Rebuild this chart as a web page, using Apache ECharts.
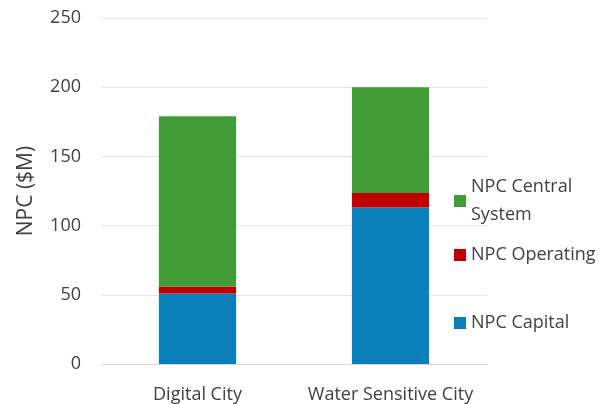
<!DOCTYPE html>
<html>
<head>
<meta charset="utf-8">
<script src="https://cdn.jsdelivr.net/npm/echarts@6/dist/echarts.min.js"></script>
<style>
  html, body { margin: 0; padding: 0; background: #fff; }
  #main { width: 609px; height: 404px; }
</style>
</head>
<body>
<div id="main"></div>
<script>
var categories = ["Digital City", "Water Sensitive City"];
var capital = [51, 113];
var operating = [5, 10.5];
var central = [123, 76.5];
var yTicks = [0, 50, 100, 150, 200, 250];

var font = "Open Sans";
var myChart = echarts.init(document.getElementById("main"));

function legendAt(name, top) {
  return {
    data: [name],
    orient: "vertical",
    left: 449,
    top: top,
    itemWidth: 12,
    itemHeight: 12,
    icon: "rect",
    itemGap: 4,
    selectedMode: false,
    textStyle: { fontFamily: font, fontSize: 18, color: "#404040", lineHeight: 28 },
    formatter: function (n) { return n === "NPC Central System" ? "NPC Central\nSystem" : n; }
  };
}

var option = {
  animation: false,
  grid: { left: 101, right: 122, top: 18, bottom: 40 },
  legend: [
    legendAt("NPC Central System", 168),
    legendAt("NPC Operating", 236),
    legendAt("NPC Capital", 304)
  ],
  xAxis: {
    type: "category",
    data: categories,
    axisLine: { lineStyle: { color: "#D9D9D9" } },
    axisTick: { show: false },
    axisLabel: { fontFamily: font, fontSize: 18, color: "#404040", margin: 22, interval: 0 }
  },
  yAxis: {
    type: "value",
    min: 0,
    max: 250,
    interval: 50,
    name: "NPC ($M)",
    nameLocation: "middle",
    nameGap: 64,
    nameTextStyle: { fontFamily: font, fontSize: 21, color: "#404040" },
    axisLine: { show: false },
    axisTick: { show: false },
    splitLine: { lineStyle: { color: "#E6E6E6" } },
    axisLabel: {
      fontFamily: font, fontSize: 18, color: "#404040", margin: 20,
      formatter: function (v) { return yTicks.indexOf(v) >= 0 ? String(v) : ""; }
    }
  },
  series: [
    { name: "NPC Capital", type: "bar", stack: "npc", data: capital, barWidth: "40%", itemStyle: { color: "#0A7FBA" } },
    { name: "NPC Operating", type: "bar", stack: "npc", data: operating, itemStyle: { color: "#C00000" } },
    { name: "NPC Central System", type: "bar", stack: "npc", data: central, itemStyle: { color: "#419C38" } }
  ]
};
myChart.setOption(option);
</script>
</body>
</html>
